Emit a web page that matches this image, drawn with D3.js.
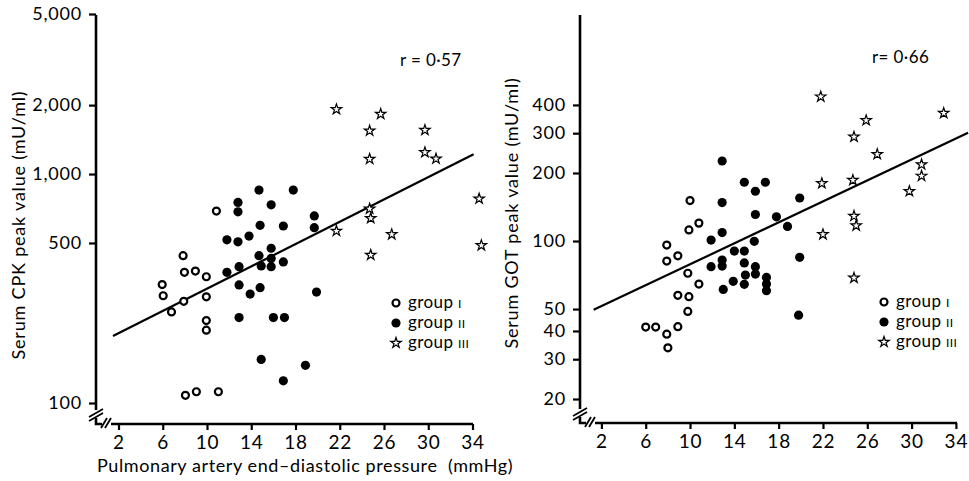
<!DOCTYPE html>
<html>
<head>
<meta charset="utf-8">
<script src="https://cdn.jsdelivr.net/npm/d3@7"></script>
<style>
  body { margin: 0; background: #fff; }
  svg text { font-family: Lato, "DejaVu Sans", sans-serif; fill: #000; }
</style>
</head>
<body>
<svg id="chart" width="969" height="481"></svg>
<script>
// x: pulmonary artery end-diastolic pressure (mmHg), y: peak enzyme value (mU/ml)
const xTicks = [2, 6, 10, 14, 18, 22, 26, 30, 34];

const cpkTicks = [100, 500, 1000, 2000, 5000];
const cpkTickLabels = ['100', '500', '1,000', '2,000', '5,000'];

const gotTicks = [20, 30, 40, 50, 100, 200, 300, 400];
const gotTickLabels = ['20', '30', '40', '50', '100', '200', '300', '400'];

const cpkGroup1 = [[10.85, 689], [7.84, 440], [7.96, 372], [8.95, 377], [9.94, 356], [5.95, 329],
  [6.04, 294], [7.9, 278], [6.79, 250], [9.94, 291], [9.94, 229], [9.94, 208], [8.05, 108],
  [9.04, 112], [11.03, 112]];
const cpkGroup2 = [[14.7, 851], [17.8, 851], [12.8, 752], [12.8, 684], [15.8, 734], [19.7, 656],
  [14.8, 597], [16.9, 593], [19.7, 583], [11.8, 516], [12.8, 506], [13.8, 536], [15.8, 474],
  [14.7, 440], [15.8, 428], [15.8, 394], [14.9, 397], [16.9, 413], [11.8, 372], [12.9, 394],
  [12.9, 328], [14.8, 319], [13.9, 299], [19.9, 305], [12.9, 236], [16.0, 236], [17.0, 236],
  [14.9, 155], [18.9, 146], [16.9, 125]];
const cpkGroup3 = [[21.7, 1917], [25.7, 1828], [24.7, 1545], [29.7, 1556], [24.7, 1163],
  [29.7, 1244], [30.7, 1166], [34.6, 780], [24.7, 705], [24.8, 641], [21.7, 564], [26.7, 545],
  [34.8, 488], [24.8, 443]];
const cpkFit = [[1.5, 196], [34.1, 1219]];

const gotGroup1 = [[10.0, 151], [10.8, 120], [9.9, 112], [7.9, 96], [8.9, 86], [7.9, 81.5],
  [9.8, 72], [10.8, 64.5], [8.9, 57.5], [9.9, 56.7], [9.8, 48.8], [6.0, 41.6], [6.9, 41.6],
  [8.9, 41.8], [7.9, 38.7], [8.0, 33.7]];
const gotGroup2 = [[12.9, 226], [14.9, 182], [16.8, 182], [15.9, 166], [12.9, 148], [19.9, 155],
  [15.9, 131], [17.8, 128], [18.8, 116], [12.9, 109], [11.9, 101], [15.8, 99.7], [14.0, 90.3],
  [14.9, 90.3], [12.9, 82.4], [14.9, 80], [11.9, 77], [12.9, 77.5], [15.9, 77], [19.9, 84.7],
  [15.9, 71.4], [15.0, 70.7], [16.9, 69], [16.9, 64.5], [16.9, 60.3], [14.9, 64.3], [13.9, 66.3],
  [13.0, 61.1], [19.8, 47]];
const gotGroup3 = [[21.8, 435], [32.9, 368], [25.9, 342], [24.8, 289], [26.9, 242], [30.9, 218],
  [30.9, 194], [21.9, 180], [24.7, 186], [29.8, 166], [24.8, 129], [25.0, 117], [22.0, 107],
  [24.8, 68.7]];
const gotFit = [[1.3, 49.6], [35.1, 301]];

const legendNames = ['group ', 'group ', 'group '];
const legendNumerals = ['I', 'II', 'III'];

const svg = d3.select('#chart');

const panels = [
  {
    axisX: 96, axisTop: 15, axisY: 424, xEnd: 473,
    x: d3.scaleLinear().domain([2, 34]).range([118.5, 472.5]),
    y: d3.scaleLog().domain([100, 5000]).range([403, 14]),
    ticks: cpkTicks, tickLabels: cpkTickLabels,
    groups: [cpkGroup1, cpkGroup2, cpkGroup3], fit: cpkFit,
    r: 'r = 0·57', rPos: [400, 66],
    title: 'Serum CPK peak value (mU/ml)', titlePos: [25, 225],
    legend: [396, 303]
  },
  {
    axisX: 580, axisTop: 15, axisY: 423, xEnd: 957,
    x: d3.scaleLinear().domain([2, 34]).range([601.4, 955.9]),
    y: d3.scaleLog().domain([20, 1000]).range([399, 15]),
    ticks: gotTicks, tickLabels: gotTickLabels,
    groups: [gotGroup1, gotGroup2, gotGroup3], fit: gotFit,
    r: 'r= 0·66', rPos: [872, 63],
    title: 'Serum GOT peak value (mU/ml)', titlePos: [518, 213],
    legend: [884, 302]
  }
];

const star = d3.symbol().type(d3.symbolStar).size(34);

function drawMarker(sel, group) {
  if (group === 0) {
    sel.append('circle').attr('r', 3.5)
      .attr('fill', '#fff').attr('stroke', '#000').attr('stroke-width', 2.2);
  } else if (group === 1) {
    sel.append('circle').attr('r', 4.6).attr('fill', '#000');
  } else {
    sel.append('path').attr('d', star)
      .attr('fill', '#fff').attr('stroke', '#000').attr('stroke-width', 1.2)
      .attr('stroke-linejoin', 'miter');
  }
}

panels.forEach(p => {
  const g = svg.append('g');

  // axis lines with the broken corner
  const ax = p.axisX, ay = p.axisY;
  g.append('path')
    .attr('d', `M${ax},${p.axisTop}V${ay - 14} M${ax},${ay - 6}V${ay}H${ax + 6} M${ax + 15},${ay}H${p.xEnd}`)
    .attr('fill', 'none').attr('stroke', '#000').attr('stroke-width', 2.6);
  const slash = g.append('g').attr('stroke', '#000').attr('stroke-width', 1.8);
  [-1, 3].forEach(d => {
    slash.append('line')
      .attr('x1', ax - 7).attr('y1', ay - 6 + d)
      .attr('x2', ax + 7).attr('y2', ay - 14 + d);
    slash.append('line')
      .attr('x1', ax + 6 + d).attr('y1', ay + 4)
      .attr('x2', ax + 12 + d).attr('y2', ay - 6);
  });

  // y axis ticks
  const yAxis = d3.axisLeft(p.y)
    .tickValues(p.ticks)
    .tickFormat((d, i) => p.tickLabels[i])
    .tickSize(7).tickSizeOuter(0).tickPadding(7);
  const yg = g.append('g').attr('transform', `translate(${ax},0)`).call(yAxis);
  yg.select('.domain').remove();
  yg.selectAll('.tick line').attr('stroke', '#000').attr('stroke-width', 2.2);
  yg.selectAll('.tick text').attr('font-size', 18).attr('font-family', 'Lato')
    .attr('letter-spacing', 0.8);

  // x axis ticks
  const xAxis = d3.axisBottom(p.x)
    .tickValues(xTicks)
    .tickFormat(d3.format('d'))
    .tickSize(6).tickSizeOuter(0).tickPadding(6);
  const xg = g.append('g').attr('transform', `translate(0,${ay})`).call(xAxis);
  xg.select('.domain').remove();
  xg.selectAll('.tick line').attr('stroke', '#000').attr('stroke-width', 2.2);
  xg.selectAll('.tick text').attr('font-size', 19).attr('font-family', 'Lato')
    .attr('letter-spacing', 0.8);

  // regression line
  g.append('path')
    .datum(p.fit)
    .attr('d', d3.line().x(d => p.x(d[0])).y(d => p.y(d[1])))
    .attr('fill', 'none').attr('stroke', '#000').attr('stroke-width', 2.2);

  // points
  p.groups.forEach((pts, gi) => {
    pts.forEach(d => {
      const m = g.append('g').attr('transform', `translate(${p.x(d[0])},${p.y(d[1])})`);
      drawMarker(m, gi);
    });
  });

  // correlation text
  g.append('text')
    .attr('x', p.rPos[0]).attr('y', p.rPos[1])
    .attr('font-size', 17)
    .attr('letter-spacing', 0.4)
    .text(p.r);

  // y title
  g.append('text')
    .attr('transform', `translate(${p.titlePos[0]},${p.titlePos[1]}) rotate(-90)`)
    .attr('text-anchor', 'middle')
    .attr('font-size', 18)
    .attr('letter-spacing', 0.8)
    .text(p.title);

  // legend
  legendNames.forEach((name, i) => {
    const ly = p.legend[1] + i * 20;
    const m = g.append('g').attr('transform', `translate(${p.legend[0]},${ly})`);
    drawMarker(m, i);
    const t = g.append('text')
      .attr('x', p.legend[0] + 12).attr('y', ly + 5)
      .attr('font-size', 17)
      .attr('letter-spacing', 0.4);
    t.append('tspan').text(name);
    t.append('tspan').attr('font-size', 12).text(legendNumerals[i]);
  });
});

svg.append('text')
  .attr('x', 97).attr('y', 472)
  .attr('font-size', 18)
  .attr('letter-spacing', 0.6)
  .style('white-space', 'pre')
  .text('Pulmonary artery end\u2013diastolic pressure  (mmHg)');
</script>
</body>
</html>
